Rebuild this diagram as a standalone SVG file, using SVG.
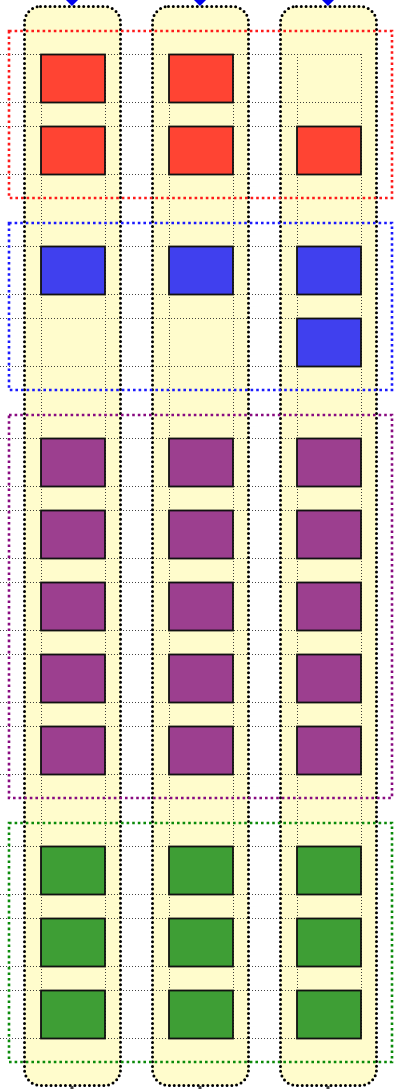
<svg xmlns="http://www.w3.org/2000/svg" width="398" height="1090" viewBox="0 0 398 1090">
<style>
.lane{fill:#fffccc;stroke:#000;stroke-width:3;stroke-dasharray:0 4.8;stroke-linecap:round}
.grid{stroke:#222;stroke-width:1;stroke-dasharray:1 2;opacity:0.85;fill:none}
.card{stroke:#111;stroke-width:1.8}
.r{fill:#ff4433}.b{fill:#4040ee}.p{fill:#9c3f8f}.g{fill:#3e9e35}
.grp{fill:none;stroke-width:2.6;stroke-dasharray:2.6 3}
.top{fill:#0000ee}
.bot{fill:#444}
</style>
<g id="lanes">
<g id="lane1"><rect class="lane" x="24.5" y="6.5" width="96" height="1079" rx="16"/><path class="top" d="M66 0 L72 6 L78 0 Z"/><rect class="bot" x="70.5" y="1086" width="3" height="3"/></g>
<g id="lane2"><rect class="lane" x="152.5" y="6.5" width="96" height="1079" rx="16"/><path class="top" d="M194 0 L200 6 L206 0 Z"/><rect class="bot" x="198.5" y="1086" width="3" height="3"/></g>
<g id="lane3"><rect class="lane" x="280.5" y="6.5" width="96" height="1079" rx="16"/><path class="top" d="M322 0 L328 6 L334 0 Z"/><rect class="bot" x="326.5" y="1086" width="3" height="3"/></g>
</g>
<g id="connectors" class="grid">
<path d="M0 54.5H361M0 102.5H361M0 126.5H361M0 174.5H361M0 246.5H361M0 294.5H361M0 318.5H361M0 366.5H361M0 438.5H361M0 486.5H361M0 510.5H361M0 558.5H361M0 582.5H361M0 630.5H361M0 654.5H361M0 702.5H361M0 726.5H361M0 774.5H361M0 846.5H361M0 894.5H361M0 918.5H361M0 966.5H361M0 990.5H361M0 1038.5H361"/>
<path d="M41.5 54V1038M105.5 54V1038M169.5 54V1038M233.5 54V1038M297.5 54V1038M361.5 54V1038"/>
</g>
<g id="cards">
<rect id="r11" class="card r" x="41" y="54.5" width="64" height="48"/>
<rect id="r12" class="card r" x="41" y="126.5" width="64" height="48"/>
<rect id="r21" class="card r" x="169" y="54.5" width="64" height="48"/>
<rect id="r22" class="card r" x="169" y="126.5" width="64" height="48"/>
<rect id="r32" class="card r" x="297" y="126.5" width="64" height="48"/>
<rect id="b11" class="card b" x="41" y="246.5" width="64" height="48"/>
<rect id="b21" class="card b" x="169" y="246.5" width="64" height="48"/>
<rect id="b31" class="card b" x="297" y="246.5" width="64" height="48"/>
<rect id="b32" class="card b" x="297" y="318.5" width="64" height="48"/>
<rect id="p11" class="card p" x="41" y="438.5" width="64" height="48"/>
<rect id="p12" class="card p" x="41" y="510.5" width="64" height="48"/>
<rect id="p13" class="card p" x="41" y="582.5" width="64" height="48"/>
<rect id="p14" class="card p" x="41" y="654.5" width="64" height="48"/>
<rect id="p15" class="card p" x="41" y="726.5" width="64" height="48"/>
<rect id="p21" class="card p" x="169" y="438.5" width="64" height="48"/>
<rect id="p22" class="card p" x="169" y="510.5" width="64" height="48"/>
<rect id="p23" class="card p" x="169" y="582.5" width="64" height="48"/>
<rect id="p24" class="card p" x="169" y="654.5" width="64" height="48"/>
<rect id="p25" class="card p" x="169" y="726.5" width="64" height="48"/>
<rect id="p31" class="card p" x="297" y="438.5" width="64" height="48"/>
<rect id="p32" class="card p" x="297" y="510.5" width="64" height="48"/>
<rect id="p33" class="card p" x="297" y="582.5" width="64" height="48"/>
<rect id="p34" class="card p" x="297" y="654.5" width="64" height="48"/>
<rect id="p35" class="card p" x="297" y="726.5" width="64" height="48"/>
<rect id="g11" class="card g" x="41" y="846.5" width="64" height="48"/>
<rect id="g12" class="card g" x="41" y="918.5" width="64" height="48"/>
<rect id="g13" class="card g" x="41" y="990.5" width="64" height="48"/>
<rect id="g21" class="card g" x="169" y="846.5" width="64" height="48"/>
<rect id="g22" class="card g" x="169" y="918.5" width="64" height="48"/>
<rect id="g23" class="card g" x="169" y="990.5" width="64" height="48"/>
<rect id="g31" class="card g" x="297" y="846.5" width="64" height="48"/>
<rect id="g32" class="card g" x="297" y="918.5" width="64" height="48"/>
<rect id="g33" class="card g" x="297" y="990.5" width="64" height="48"/>
</g>
<g id="groups">
<rect id="grp-red" class="grp" stroke="#ff1a1a" x="9" y="31" width="383" height="167"/>
<rect id="grp-blue" class="grp" stroke="#1a1aff" x="9" y="223" width="383" height="167"/>
<rect id="grp-purple" class="grp" stroke="#880a80" x="9" y="415" width="383" height="383"/>
<rect id="grp-green" class="grp" stroke="#0a8a0a" x="9" y="823" width="383" height="239"/>
</g>
</svg>
